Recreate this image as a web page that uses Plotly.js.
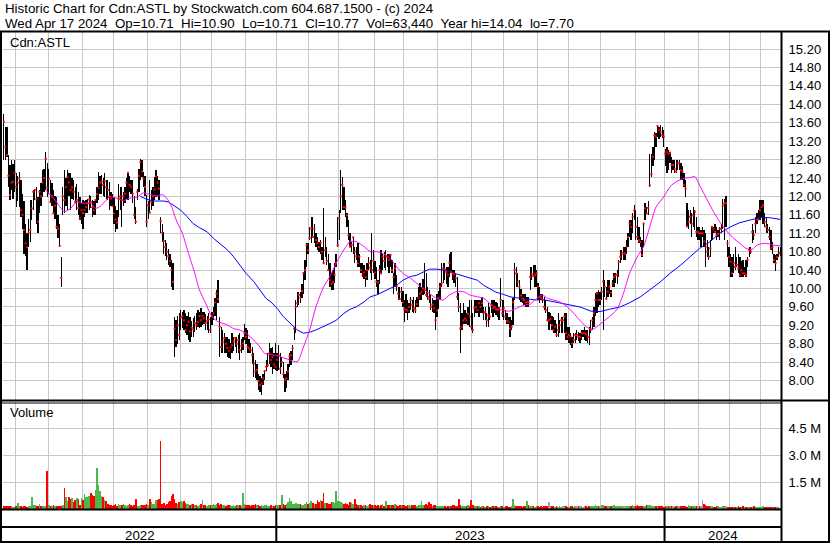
<!DOCTYPE html>
<html><head><meta charset="utf-8">
<script src="https://cdn.plot.ly/plotly-3.0.1.min.js"></script>
<style>html,body{margin:0;padding:0;background:#fff;}#chart{width:830px;height:543px;}</style>
</head><body><div id="chart"></div>
<script>
// ---- DATA ----
const high = [
13.80,13.51,13.51,12.90,12.68,12.79,12.70,12.79,12.50,12.45,
12.54,12.36,12.06,11.90,11.40,11.20,11.50,11.92,11.92,12.14,
12.14,12.21,11.99,12.14,12.30,12.57,12.60,12.97,12.72,12.60,
12.36,12.30,12.14,12.00,11.99,11.60,11.41,10.69,12.20,12.57,
12.40,12.57,12.50,12.50,12.40,12.36,12.20,12.28,12.10,11.99,
11.85,11.92,11.90,11.92,11.95,12.03,12.00,11.92,11.90,11.92,
12.20,12.54,12.45,12.46,12.40,12.50,12.36,12.36,12.32,12.10,
12.06,11.99,11.80,11.70,12.28,12.20,12.21,12.10,12.21,12.40,
12.54,12.45,12.36,12.36,12.00,11.77,12.17,12.60,12.82,12.79,
12.54,12.45,12.03,11.90,12.36,12.14,12.20,12.43,12.57,12.45,
12.36,11.56,11.40,11.23,11.05,10.98,10.85,10.76,10.62,10.55,
9.39,9.31,9.40,9.46,9.53,9.50,9.53,9.46,9.40,9.49,
9.39,9.30,9.35,9.40,9.46,9.53,9.50,9.57,9.50,9.49,
9.45,9.40,9.46,9.39,9.50,9.60,9.80,9.96,10.18,9.39,
9.17,9.10,9.03,8.95,8.95,8.90,8.81,9.03,8.95,8.95,
8.95,8.99,9.03,8.90,8.95,9.24,9.15,9.10,8.90,8.81,
8.73,8.59,8.45,8.37,8.15,8.10,8.05,8.15,8.23,8.45,
8.59,8.81,8.70,8.73,8.60,8.81,8.60,8.77,8.59,8.52,
8.40,8.15,8.20,8.37,8.59,8.65,8.77,9.17,9.75,9.93,
9.93,9.93,10.10,10.36,10.62,10.98,10.98,11.34,11.56,11.56,
11.41,11.20,11.12,11.00,11.05,10.91,11.74,11.12,10.90,10.76,
10.55,10.33,10.40,10.55,10.76,11.56,11.70,12.57,12.43,12.20,
11.92,11.63,11.49,11.20,11.00,11.12,10.91,10.91,10.98,10.76,
10.55,10.55,10.50,10.40,10.55,10.69,10.62,11.20,10.84,10.60,
10.47,10.18,10.50,10.84,10.76,10.80,10.84,10.76,10.76,10.76,
10.62,10.33,10.55,10.30,10.04,10.04,10.04,9.95,9.75,9.89,
9.75,9.68,9.82,9.75,9.82,9.75,9.82,10.04,10.11,10.04,
10.20,10.55,10.33,10.04,9.96,9.89,9.80,9.75,9.75,9.89,
9.95,10.11,10.55,10.55,10.55,10.47,10.47,10.76,10.80,10.40,
10.40,10.33,10.25,9.90,9.68,9.46,9.68,9.53,9.46,9.60,
9.75,9.75,9.46,9.75,9.75,9.75,9.75,9.75,9.82,9.60,
9.60,9.46,9.68,9.60,9.75,9.75,9.75,9.70,9.68,9.60,
10.22,9.75,9.75,9.53,9.46,9.39,9.39,9.31,9.80,10.55,
10.47,10.33,10.18,10.00,9.89,9.89,9.89,9.82,9.82,10.47,
10.47,10.51,10.51,10.40,10.11,10.04,9.89,9.89,9.82,9.75,
9.60,9.50,9.46,9.40,9.39,9.31,9.24,9.46,9.31,9.39,
9.39,9.46,9.46,9.17,9.17,9.03,8.95,9.03,9.03,9.10,
9.05,9.03,9.10,9.10,9.17,9.10,9.10,9.17,9.31,9.39,
9.60,9.90,9.93,9.96,9.93,10.04,10.40,10.18,10.04,10.18,
10.18,9.96,10.18,10.33,10.33,10.40,10.62,10.84,10.84,10.91,
10.91,11.05,11.20,11.49,11.49,11.63,11.81,11.70,11.56,11.34,
11.12,11.05,11.41,11.85,11.78,11.90,12.93,12.93,13.08,13.40,
13.37,13.55,13.50,13.55,13.51,13.44,13.04,13.08,13.01,12.97,
12.86,12.79,12.79,12.79,12.79,12.79,12.72,12.65,12.50,12.36,
11.85,11.70,11.70,11.63,11.77,11.70,11.56,11.34,11.34,11.27,
11.34,11.27,11.20,11.05,10.91,11.05,11.34,11.34,11.41,11.34,
11.27,11.34,11.41,11.95,11.95,12.00,11.05,10.91,10.76,10.69,
10.76,10.91,10.69,10.76,10.69,10.60,10.62,10.47,10.62,10.69,
10.91,10.91,11.41,11.27,11.56,11.63,11.70,11.92,11.92,11.92,
11.63,11.56,11.41,11.34,11.27,11.00,10.76,10.73,10.76,10.91,10.90
];
const low = [
12.79,12.79,12.86,12.20,11.92,12.14,11.95,12.10,11.77,11.90,
11.77,11.56,11.30,10.76,10.70,10.40,10.90,11.02,11.49,11.70,
11.92,11.41,11.20,11.63,11.80,11.99,12.10,12.14,11.99,12.05,
11.85,11.80,11.63,11.50,11.30,11.10,10.91,10.04,11.60,11.63,
11.80,11.70,12.00,11.70,11.95,11.92,11.85,11.70,11.60,11.49,
11.40,11.30,11.55,11.63,11.65,11.70,11.75,11.56,11.60,11.59,
11.85,11.92,12.05,12.06,12.00,11.99,11.95,11.92,11.70,11.80,
11.77,11.40,11.23,11.30,11.56,11.70,11.34,11.80,11.85,11.95,
11.92,12.10,12.06,11.85,11.50,11.41,11.92,12.10,12.36,12.43,
12.21,12.00,11.34,11.50,11.63,11.70,11.80,11.92,11.99,12.00,
11.92,11.20,11.00,10.76,10.70,10.62,10.50,10.47,10.04,9.97,
8.52,8.73,8.80,8.88,9.10,9.15,9.10,9.03,9.00,8.88,
8.84,8.95,8.95,9.05,9.10,9.17,9.15,9.17,9.20,9.24,
9.10,9.10,9.03,9.03,9.20,9.31,9.40,9.31,9.68,8.52,
8.59,8.60,8.59,8.60,8.52,8.50,8.48,8.59,8.65,8.73,
8.60,8.59,8.44,8.60,8.66,8.88,8.80,8.59,8.60,8.59,
8.37,8.08,8.05,8.01,7.79,7.75,7.68,7.90,8.01,8.20,
8.30,8.37,8.30,8.15,8.25,8.23,8.20,8.23,8.15,8.30,
8.05,7.76,7.85,8.01,8.30,8.35,8.44,8.88,9.03,9.60,
9.64,9.68,9.80,9.89,10.18,10.47,10.76,11.05,10.98,11.12,
10.98,10.90,10.84,10.80,10.76,10.62,10.55,10.69,10.50,10.40,
10.04,9.97,9.97,10.11,10.47,10.91,11.05,11.63,11.70,11.70,
11.56,11.34,11.05,10.91,10.80,10.76,10.55,10.62,10.47,10.47,
10.33,10.26,10.20,10.04,10.18,10.40,10.33,10.18,10.33,10.20,
10.04,9.89,10.10,10.33,10.40,10.45,10.40,10.47,10.33,10.47,
10.33,9.89,10.04,9.95,9.75,9.75,9.71,9.60,9.28,9.46,
9.31,9.46,9.53,9.50,9.46,9.46,9.60,9.60,9.75,9.75,
9.85,9.89,9.82,9.75,9.68,9.53,9.50,9.46,9.10,9.39,
9.55,9.75,10.04,10.11,10.18,10.10,10.04,10.26,10.33,10.18,
10.11,10.04,9.75,9.50,8.59,9.10,9.24,9.24,9.24,9.20,
9.17,9.10,9.03,9.39,9.46,9.46,9.39,9.46,9.46,9.31,
9.31,9.17,9.17,9.31,9.46,9.39,9.46,9.42,9.39,9.31,
9.60,9.39,9.31,9.31,9.24,9.24,8.95,9.10,9.20,9.75,
10.04,10.04,9.75,9.70,9.68,9.64,9.60,9.60,9.60,9.96,
10.18,10.25,10.04,10.04,9.75,9.68,9.75,9.68,9.53,9.46,
9.31,9.10,9.24,9.10,9.03,9.03,8.95,8.95,9.03,9.03,
9.03,9.03,8.88,8.88,8.81,8.77,8.70,8.81,8.81,8.88,
8.85,8.81,8.88,8.95,8.88,8.85,8.81,8.77,9.03,9.10,
9.17,9.40,9.46,9.60,9.64,9.75,9.10,9.82,9.75,9.82,
9.89,9.82,10.04,10.04,10.11,10.10,10.25,10.55,10.62,10.62,
10.62,10.76,10.91,11.12,11.05,11.20,11.49,11.05,11.05,10.98,
10.91,10.69,10.91,11.49,11.63,11.60,12.21,12.43,12.65,12.79,
13.08,13.30,13.25,13.30,13.26,13.08,12.65,12.50,12.57,12.72,
12.50,12.57,12.50,12.50,12.57,12.57,12.36,12.36,12.21,11.99,
11.34,11.30,11.41,11.12,11.34,11.27,11.12,11.05,11.05,10.91,
11.12,10.91,10.47,10.69,10.62,10.69,11.05,11.20,11.20,11.05,
11.12,11.05,11.20,11.30,11.05,11.34,10.69,10.47,10.26,10.26,
10.33,10.40,10.47,10.33,10.26,10.26,10.26,10.29,10.26,10.47,
10.69,10.76,10.98,11.05,11.20,11.41,11.49,11.49,11.56,11.41,
11.34,11.20,11.20,11.05,10.84,10.75,10.55,10.37,10.62,10.69,10.71
];
const close = [
13.62,13.08,12.90,12.45,12.03,12.30,12.32,12.51,12.21,12.30,
12.39,11.70,11.60,11.27,10.98,10.90,11.20,11.27,11.74,12.10,
12.14,11.94,11.45,12.10,12.00,12.30,12.40,12.82,12.19,12.38,
11.88,12.00,11.64,11.80,11.34,11.30,10.93,10.23,12.00,11.92,
12.20,12.43,12.30,12.14,12.20,12.10,11.88,11.92,11.75,11.52,
11.70,11.64,11.70,11.77,11.85,11.93,11.88,11.77,11.70,11.92,
12.05,12.19,12.30,12.32,12.25,12.33,12.20,12.14,11.99,11.95,
11.79,11.63,11.50,11.43,11.95,12.00,11.92,12.00,12.06,12.30,
12.51,12.25,12.21,12.06,11.60,11.45,12.10,12.45,12.75,12.54,
12.39,12.20,11.45,11.80,11.65,11.88,12.00,12.15,12.43,12.30,
12.17,11.47,11.20,11.03,10.90,10.80,10.70,10.60,10.40,10.14,
9.13,8.88,9.20,8.99,9.37,9.40,9.31,9.10,9.20,9.28,
9.07,9.15,9.11,9.25,9.20,9.28,9.40,9.31,9.40,9.35,
9.25,9.30,9.33,9.10,9.40,9.46,9.70,9.89,9.77,9.17,
8.73,8.85,8.92,8.80,8.71,8.65,8.72,8.77,8.85,8.92,
8.80,8.88,8.66,8.75,8.81,9.03,8.95,8.73,8.70,8.66,
8.55,8.37,8.20,8.23,7.99,7.90,7.94,8.05,8.21,8.30,
8.34,8.59,8.45,8.52,8.35,8.30,8.45,8.55,8.26,8.40,
8.15,8.01,8.05,8.20,8.52,8.55,8.70,9.13,9.60,9.68,
9.86,9.80,9.95,10.33,10.40,10.94,10.83,11.10,11.30,11.12,
11.30,11.05,10.98,10.90,10.99,10.80,10.55,10.84,10.60,10.40,
10.18,10.10,10.14,10.30,10.55,10.94,11.52,12.00,12.25,11.77,
11.76,11.59,11.16,10.91,10.95,11.11,10.80,10.70,10.55,10.69,
10.40,10.29,10.35,10.25,10.40,10.55,10.45,10.40,10.60,10.35,
10.15,10.13,10.40,10.33,10.69,10.60,10.70,10.69,10.62,10.73,
10.40,10.25,10.44,10.05,9.89,9.77,9.93,9.70,9.55,9.53,
9.52,9.60,9.75,9.65,9.57,9.53,9.66,9.80,9.89,9.93,
10.00,9.97,9.86,9.82,9.78,9.60,9.65,9.57,9.31,9.52,
9.80,10.04,10.11,10.44,10.42,10.36,10.30,10.56,10.36,10.33,
10.31,10.22,9.82,9.60,9.13,9.17,9.31,9.35,9.31,9.45,
9.39,9.17,9.10,9.57,9.60,9.53,9.68,9.60,9.68,9.46,
9.49,9.31,9.42,9.39,9.64,9.57,9.60,9.55,9.53,9.57,
9.75,9.46,9.57,9.39,9.30,9.28,9.13,9.17,9.70,10.40,
10.33,10.15,10.04,9.85,9.78,9.75,9.70,9.71,9.70,10.25,
10.31,10.27,10.29,10.33,10.04,9.82,9.80,9.75,9.60,9.53,
9.31,9.31,9.34,9.20,9.10,9.17,8.99,9.10,9.20,9.31,
9.31,9.39,9.03,8.95,8.99,8.95,8.81,8.88,8.99,8.99,
8.95,8.95,9.03,9.03,9.03,9.00,8.95,8.94,9.11,9.31,
9.46,9.75,9.89,9.75,9.75,9.93,10.15,10.04,9.78,9.93,
10.04,9.91,10.11,10.25,10.29,10.30,10.58,10.69,10.76,10.76,
10.76,10.91,11.12,11.41,11.34,11.56,11.70,11.34,11.12,11.05,
11.01,10.73,11.41,11.74,11.63,11.75,12.24,12.48,12.86,13.33,
13.30,13.53,13.45,13.40,13.33,13.30,12.93,12.97,12.93,12.95,
12.68,12.68,12.60,12.54,12.72,12.72,12.57,12.54,12.25,12.17,
11.35,11.45,11.56,11.41,11.59,11.67,11.23,11.23,11.20,11.20,
11.20,11.02,10.91,10.80,10.69,10.87,11.34,11.30,11.23,11.16,
11.18,11.30,11.30,11.80,11.85,11.85,10.98,10.69,10.58,10.33,
10.55,10.47,10.51,10.44,10.29,10.40,10.33,10.33,10.29,10.62,
10.84,10.80,11.23,11.16,11.41,11.49,11.50,11.70,11.77,11.81,
11.45,11.34,11.27,11.12,10.87,10.90,10.62,10.55,10.69,10.76,10.77
];
// volume in thousands of shares
const volumeK = [
170,160,180,150,170,140,120,130,150,320,
150,170,120,160,140,130,150,180,690,220,
200,150,170,260,180,150,140,170,2100,200,
180,160,200,150,140,160,190,170,220,1150,
690,420,650,560,620,400,520,600,580,200,
600,480,820,690,650,700,870,780,720,1060,
2270,1340,1020,720,650,500,420,260,230,200,
180,220,260,190,300,250,220,280,200,180,
240,280,200,160,220,540,190,180,210,230,
200,250,300,240,560,380,300,260,480,500,
540,3800,290,310,250,260,380,420,720,820,
560,320,300,380,420,400,420,360,300,280,
220,280,260,240,200,190,220,260,500,240,
220,180,250,210,200,300,240,280,320,220,
260,230,200,180,220,250,200,170,240,190,
210,250,200,180,870,300,240,200,220,190,
230,200,260,240,210,180,200,170,220,200,
170,150,200,180,160,220,240,250,210,780,
300,230,260,380,600,420,300,260,320,280,
300,260,240,220,300,380,280,330,420,320,
300,260,480,380,500,420,870,350,330,300,
260,380,400,350,1000,420,460,380,320,300,
360,280,250,380,320,300,560,260,240,220,
200,180,210,230,190,200,260,240,220,200,
180,210,190,230,260,180,420,200,230,220,
200,240,300,220,180,200,230,240,210,190,
200,220,180,240,200,210,180,220,250,460,
200,250,300,200,400,260,180,220,240,160,
140,150,160,180,150,130,140,160,140,200,
220,150,140,580,200,180,160,150,170,200,
160,480,200,180,150,140,160,130,140,150,
120,160,140,130,150,170,140,160,120,130,
150,140,130,160,140,120,130,170,540,200,
180,160,140,150,130,160,140,440,200,150,
160,140,130,150,140,130,150,120,140,150,
160,400,180,150,140,130,150,120,140,130,
150,140,170,130,120,150,140,130,160,150,
140,180,150,130,140,150,130,140,160,150,
170,200,180,150,160,240,200,150,140,170,
180,150,160,200,170,150,140,170,160,190,
150,170,160,140,180,200,150,160,220,150,
180,160,140,150,230,240,200,170,180,160,
150,170,160,140,150,130,140,160,150,170,
160,140,130,180,150,140,190,160,150,140,
130,210,150,140,180,160,170,140,190,150,
500,280,200,180,150,140,160,130,120,150,
140,130,120,150,160,140,130,120,110,130,
120,110,130,140,120,110,150,130,120,110,
130,120,110,140,120,130,110,100,120,140,
110,100,120,130,110,100,90,110,100,120,
63
];
// short moving average (magenta), sampled along the line
const fastMaDay = [27,33,39,43,47,51,56,59,62,66,68,73,77,81,86,90,94,99,102,105,108,111,115,119,123,126,130,134,138,144,148,152,156,161,165,168,172,178,184,189,193,197,201,206,210,214,219,223,227,232,236,240,244,249,253,257,262,266,270,274,279,283,287,292,296,300,305,309,313,317,322,326,330,335,339,343,347,350,354,358,363,367,371,375,379,382,386,390,395,399,403,408,412,416,420,425,429,433,438,442,445,448,453,457,461,466,470,474,478,482,485,489,493,496,500];
const fastMaVal = [12.14,11.92,11.67,11.74,11.88,11.85,11.85,11.74,11.78,11.92,11.99,11.96,11.91,11.96,11.99,12.08,12.04,12.01,12.04,11.96,11.78,11.49,11.20,10.76,10.33,9.97,9.68,9.39,9.28,9.21,9.13,9.10,9.03,8.88,8.73,8.59,8.57,8.52,8.45,8.41,8.73,9.10,9.60,10.04,10.26,10.55,10.84,11.02,11.02,10.91,10.80,10.80,10.76,10.65,10.47,10.33,10.22,10.11,10.00,9.89,9.78,9.75,9.86,9.94,9.93,9.86,9.82,9.79,9.68,9.57,9.52,9.51,9.57,9.64,9.66,9.78,9.86,9.79,9.75,9.71,9.60,9.46,9.31,9.17,9.11,9.17,9.28,9.39,9.55,9.89,10.33,10.69,10.91,11.34,11.77,11.99,12.21,12.32,12.39,12.41,12.43,12.25,11.92,11.67,11.45,11.23,11.09,10.98,10.87,10.85,10.94,10.98,10.97,10.94,10.93];
// long moving average (blue)
const slowMaDay = [88,92,96,103,106,109,114,118,122,126,131,135,139,144,148,152,156,161,165,169,172,176,180,184,189,193,197,201,206,210,214,219,223,227,232,236,240,244,249,253,257,262,266,270,274,279,283,287,292,296,300,305,309,313,317,322,326,330,335,339,343,347,354,363,371,378,384,390,397,403,410,416,423,429,436,442,448,455,461,468,474,481,487,493,500];
const slowMaVal = [12.00,11.94,11.90,11.90,11.88,11.81,11.70,11.56,11.41,11.32,11.23,11.09,10.98,10.84,10.69,10.51,10.33,10.15,9.97,9.78,9.71,9.57,9.39,9.26,9.10,9.03,9.05,9.10,9.17,9.24,9.31,9.46,9.55,9.60,9.71,9.82,9.86,9.93,10.00,10.07,10.18,10.26,10.29,10.36,10.42,10.42,10.40,10.36,10.31,10.27,10.23,10.18,10.07,10.00,9.92,9.87,9.82,9.80,9.78,9.75,9.75,9.76,9.71,9.66,9.60,9.51,9.50,9.55,9.60,9.69,9.82,9.97,10.15,10.33,10.51,10.69,10.87,11.02,11.20,11.34,11.43,11.49,11.54,11.54,11.50];
// first trading day of each month (index), and of each year
const monthStartDay = [8,29,51,71,93,114,134,156,176,197,216,239,258,280,302,322,344,364,385,407,426,448,468,488];
const yearStartDay = [0,176,426];
const yearLabels = ['2022','2023','2024'];
const priceTicks = [8.0,8.4,8.8,9.2,9.6,10.0,10.4,10.8,11.2,11.6,12.0,12.4,12.8,13.2,13.6,14.0,14.4,14.8,15.2];
const volTicks = [1500000,3000000,4500000];
const volTickText = ['1.5 M','3.0 M','4.5 M'];
const headerLine1 = 'Historic Chart for Cdn:ASTL by Stockwatch.com 604.687.1500 - (c) 2024';
const headerLine2 = ['Wed Apr 17 2024','Op=10.71','Hi=10.90','Lo=10.71','Cl=10.77','Vol=63,440','Year hi=14.04','lo=7.70'];

// ---- CHART ----
const N = high.length;
if (low.length !== N || close.length !== N || volumeK.length !== N) {
  throw new Error('length mismatch ' + [high.length, low.length, close.length, volumeK.length].join(','));
}
const W = 830, H = 543;
const FONT = 'Liberation Sans, Arial, sans-serif';
const GRID = '#c8c8c8';
const px = v => v / W;
const py = v => 1 - v / H;

const days = Array.from({length: N}, (_, i) => i);
const gridX = monthStartDay.map(d => d - 0.5);
const volColors = days.map(i => i === 0 ? '#ff0000' :
  (close[i] > close[i-1] ? '#4cb84c' : (close[i] < close[i-1] ? '#ff0000' : '#a0a0a0')));

const traces = [
  {type: 'bar', x: days, y: high.map((h, i) => h - low[i]), base: low, width: 0.85,
   marker: {color: '#000000', line: {width: 0}}, xaxis: 'x', yaxis: 'y', hoverinfo: 'skip'},
  {type: 'scatter', mode: 'lines', x: slowMaDay, y: slowMaVal, line: {color: '#0000ff', width: 1},
   xaxis: 'x', yaxis: 'y', hoverinfo: 'skip'},
  {type: 'scatter', mode: 'lines', x: fastMaDay, y: fastMaVal, line: {color: '#ff00ff', width: 1, shape: 'spline', smoothing: 0.6},
   xaxis: 'x', yaxis: 'y', hoverinfo: 'skip'},
  {type: 'scatter', mode: 'markers', x: days, y: close,
   marker: {symbol: 'square', size: 2, color: '#ff0000', line: {width: 0}},
   xaxis: 'x', yaxis: 'y', hoverinfo: 'skip'},
  {type: 'bar', x: days, y: volumeK.map(v => v * 1000), width: 1,
   marker: {color: volColors, line: {width: 0}}, xaxis: 'x2', yaxis: 'y2', hoverinfo: 'skip'}
];

const xCommon = {
  range: [-0.5, N - 0.5], tickvals: gridX, showticklabels: false, ticks: '',
  showgrid: true, gridcolor: GRID, gridwidth: 1, zeroline: false, showline: false, fixedrange: true
};
const line = (x0, y0, x1, y1, w, xref) => ({
  type: 'line', xref: xref || 'paper', yref: 'paper',
  x0: xref ? x0 : px(x0), x1: xref ? x1 : px(x1), y0: py(y0), y1: py(y1),
  line: {color: '#000', width: w}, layer: 'above'
});

const shapes = [
  line(0, 31.5, 830, 31.5, 2),
  line(1, 31, 1, 543, 2),
  line(829, 31, 829, 543, 2),
  line(781.5, 31, 781.5, 543, 2),
  line(0, 400.5, 830, 400.5, 2),
  line(0, 403, 781, 403, 1),
  line(0, 509.5, 781, 509.5, 2),
  line(0, 527, 781, 527, 2),
  line(0, 542, 830, 542, 2)
];
yearStartDay.slice(1).forEach(d => shapes.push(line(d - 0.5, 509, d - 0.5, 542, 2, 'x')));

const ann = (text, x, y, xanchor, xref, size) => ({
  text: text, x: xref ? x : px(x), y: py(y), xref: xref || 'paper', yref: 'paper',
  xanchor: xanchor || 'left', yanchor: 'middle', showarrow: false,
  font: {family: FONT, size: size || 12.5, color: '#000'}
});
const annotations = [
  ann(headerLine1, 3, 8.5, 'left', null, 13.3),
  ann(headerLine2.join('\u00a0\u00a0'), 3, 23, 'left', null, 13.3),
  ann('Cdn:ASTL', 8, 42, 'left', null, 13),
  ann('Volume', 8, 413, 'left', null, 13)
];
yearStartDay.forEach((d, k) => {
  const end = k + 1 < yearStartDay.length ? yearStartDay[k + 1] : N;
  annotations.push(ann(yearLabels[k], (d - 0.5 + end - 0.5) / 2, 535, 'center', 'x', 13.3));
});

const layout = {
  width: W, height: H,
  margin: {l: 0, r: 0, t: 0, b: 0, pad: 0},
  paper_bgcolor: '#ffffff', plot_bgcolor: '#ffffff',
  showlegend: false, bargap: 0,
  font: {family: FONT, size: 12.5, color: '#000'},
  xaxis: Object.assign({}, xCommon, {domain: [px(3), px(781)], anchor: 'y'}),
  xaxis2: Object.assign({}, xCommon, {domain: [px(3), px(781)], anchor: 'y2', matches: 'x'}),
  yaxis: {
    domain: [py(400), py(31)], range: [7.579, 15.592], side: 'right', anchor: 'x',
    tickvals: priceTicks, ticktext: priceTicks.map(v => v.toFixed(2)),
    ticks: 'outside', ticklen: 4, tickcolor: 'rgba(0,0,0,0)',
    showgrid: true, gridcolor: GRID, gridwidth: 1, zeroline: false, showline: false,
    tickfont: {family: FONT, size: 13, color: '#000'}, fixedrange: true
  },
  yaxis2: {
    domain: [py(509), py(402)], range: [0, 5970000], side: 'right', anchor: 'x2',
    tickvals: volTicks, ticktext: volTickText,
    ticks: 'outside', ticklen: 4, tickcolor: 'rgba(0,0,0,0)',
    showgrid: true, gridcolor: GRID, gridwidth: 1, zeroline: false, showline: false,
    tickfont: {family: FONT, size: 13, color: '#000'}, fixedrange: true
  },
  shapes: shapes,
  annotations: annotations
};

Plotly.newPlot('chart', traces, layout, {displayModeBar: false, staticPlot: true});
</script>
</body></html>
